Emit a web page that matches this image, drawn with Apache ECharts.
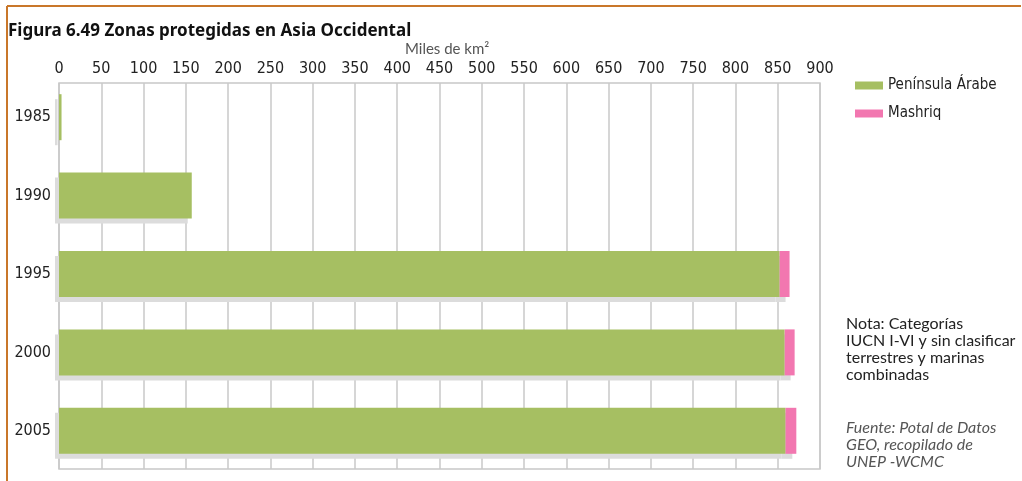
<!DOCTYPE html>
<html>
<head>
<meta charset="utf-8">
<script src="https://cdn.jsdelivr.net/npm/echarts@6/dist/echarts.min.js"></script>
<style>
html,body{margin:0;padding:0;background:#fff;}
#chart{width:1022px;height:481px;}
</style>
</head>
<body>
<div id="chart"></div>
<script>
const years = ['1985', '1990', '1995', '2000', '2005'];
const peninsulaArabe = [3, 157, 852, 858, 859];
const mashriq = [0, 0, 12, 12, 13];
const seriesNames = ['Península Árabe', 'Mashriq'];
const axisMax = 900;
const axisInterval = 50;

const narrow = '"Liberation Sans Narrow", "DejaVu Sans Condensed", "DejaVu Sans", sans-serif';
const green = '#a6bf62';
const pink = '#f277b0';
const shadow = {shadowColor: '#dcdcdc', shadowOffsetX: -4, shadowOffsetY: 5, shadowBlur: 0};

const chart = echarts.init(document.getElementById('chart'), null, {renderer: 'canvas'});
chart.setOption({
  animation: false,
  backgroundColor: '#fff',
  title: [
    {text: 'Figura 6.49 Zonas protegidas en Asia Occidental', left: 3, top: 18,
     textStyle: {fontFamily: '"Noto Sans", sans-serif', fontWeight: 'bold', fontSize: 17, color: '#111'}},
    {text: 'Miles de km²', left: 400, top: 37,
     textStyle: {fontFamily: 'Lato, sans-serif', fontWeight: 'normal', fontSize: 15, color: '#555'}},
    {text: 'Nota: Categorías\nIUCN I-VI y sin clasificar\nterrestres y marinas\ncombinadas', left: 841, top: 310,
     textStyle: {fontFamily: 'Lato, sans-serif', fontWeight: 'normal', fontSize: 16, lineHeight: 17, color: '#222'}},
    {text: 'Fuente: Potal de Datos\nGEO, recopilado de\nUNEP -WCMC', left: 841, top: 414,
     textStyle: {fontFamily: 'Lato, sans-serif', fontWeight: 'normal', fontStyle: 'italic', fontSize: 16, lineHeight: 17, color: '#555'}}
  ],
  legend: {
    orient: 'vertical', left: 850, top: 73, itemWidth: 28, itemHeight: 8, itemGap: 13,
    icon: 'rect',
    itemStyle: {borderWidth: 0, shadowColor: 'transparent'},
    textStyle: {fontFamily: narrow, fontSize: 15, color: '#222'},
    data: seriesNames
  },
  grid: [
    {left: 59, right: 202, top: 83, bottom: 12, show: true, borderColor: '#c8c8c8', borderWidth: 1.5, containLabel: false},
    {left: 59, right: 202, top: 78, bottom: 11, show: false, containLabel: false}
  ],
  xAxis: [
    {type: 'value', gridIndex: 0, position: 'top', min: 0, max: axisMax, interval: axisInterval,
     axisLine: {show: false}, axisTick: {show: false},
     axisLabel: {margin: 6, fontFamily: narrow, fontSize: 16, color: '#222'},
     splitLine: {show: true, lineStyle: {color: '#c8c8c8', width: 1.5}}},
    {type: 'value', gridIndex: 1, min: 0, max: axisMax, show: false}
  ],
  yAxis: [
    {type: 'category', gridIndex: 0, data: years, inverse: true, show: false},
    {type: 'category', gridIndex: 1, data: years, inverse: true,
     axisLine: {show: false}, axisTick: {show: false},
     axisLabel: {margin: 8, fontFamily: narrow, fontSize: 16, color: '#222'}}
  ],
  series: [
    {name: seriesNames[0], type: 'bar', stack: 'total', xAxisIndex: 1, yAxisIndex: 1, barWidth: 46, z: 3,
     itemStyle: Object.assign({color: green, borderWidth: 0}, shadow),
     data: peninsulaArabe},
    {name: seriesNames[1], type: 'bar', stack: 'total', xAxisIndex: 1, yAxisIndex: 1, barWidth: 46, z: 2,
     itemStyle: Object.assign({color: pink, borderWidth: 0}, shadow),
     data: mashriq}
  ],
  graphic: [
    {type: 'line', shape: {x1: 7, y1: 6, x2: 1021, y2: 6}, style: {stroke: '#c9772a', lineWidth: 2}},
    {type: 'line', shape: {x1: 7, y1: 6, x2: 7, y2: 481}, style: {stroke: '#c9772a', lineWidth: 2}}
  ]
});
</script>
</body>
</html>
